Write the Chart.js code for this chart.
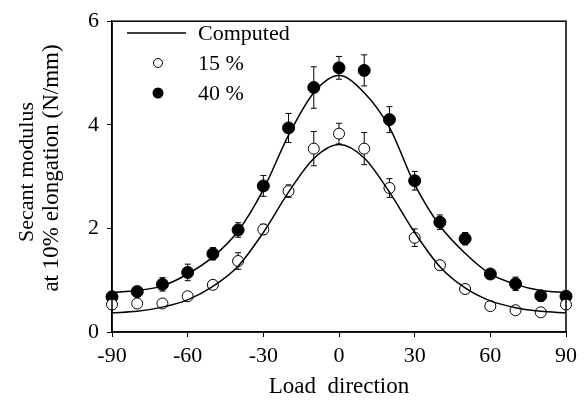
<!DOCTYPE html>
<html>
<head>
<meta charset="utf-8">
<script src="https://cdn.jsdelivr.net/npm/chart.js@4.4.0/dist/chart.umd.min.js"></script>
<style>
  html, body { margin: 0; padding: 0; background: #fff; }
  #wrap { width: 587px; height: 405px; }
</style>
</head>
<body>
<div id="wrap"><canvas id="modulusChart" width="587" height="405"></canvas></div>
<script>
// Load directions of the measured points (degrees)
const angles = [-90, -80, -70, -60, -50, -40, -30, -20, -10, 0, 10, 20, 30, 40, 50, 60, 70, 80, 90];

// Measured secant modulus (N/mm) and error bar half-lengths
const modulus15 = [0.53, 0.55, 0.55, 0.69, 0.91, 1.37, 1.98, 2.72, 3.54, 3.83, 3.54, 2.78, 1.82, 1.29, 0.83, 0.50, 0.42, 0.38, 0.53];
const error15   = [0.03, 0.03, 0.03, 0.04, 0.05, 0.16, 0.10, 0.12, 0.33, 0.20, 0.31, 0.18, 0.17, 0.06, 0.04, 0.03, 0.03, 0.03, 0.03];
const modulus40 = [0.68, 0.78, 0.92, 1.15, 1.51, 1.97, 2.82, 3.94, 4.72, 5.10, 5.05, 4.10, 2.92, 2.12, 1.80, 1.12, 0.93, 0.70, 0.69];
const error40   = [0.05, 0.05, 0.13, 0.16, 0.12, 0.14, 0.20, 0.28, 0.40, 0.22, 0.30, 0.25, 0.18, 0.14, 0.12, 0.06, 0.13, 0.10, 0.05];

// Computed curves
const computed15 = [0.37, 0.40, 0.48, 0.62, 0.88, 1.27, 1.92, 2.70, 3.35, 3.62, 3.36, 2.70, 1.92, 1.26, 0.85, 0.60, 0.47, 0.40, 0.37];
const computed40 = [0.76, 0.80, 0.89, 1.12, 1.45, 1.95, 2.75, 3.80, 4.62, 4.95, 4.62, 3.95, 2.85, 2.05, 1.52, 1.12, 0.92, 0.80, 0.76];

const xTicks = [-90, -60, -30, 0, 30, 60, 90];
const yTicks = [0, 2, 4, 6];

const serif = "'Liberation Serif', 'Times New Roman', serif";

function pts(ys) {
    return angles.map((a, i) => ({ x: a, y: ys[i] }));
}

// error bars, frame, y title and in-plot legend
const extras = {
    id: "extras",
    beforeDatasetsDraw(chart) {
        const c = chart.ctx, xs = chart.scales.x, ys = chart.scales.y;
        c.save();
        c.strokeStyle = "#000";
        c.lineWidth = 1;
        [[modulus15, error15], [modulus40, error40]].forEach(([vals, errs]) => {
            vals.forEach((v, i) => {
                const px = xs.getPixelForValue(angles[i]);
                const top = ys.getPixelForValue(v + errs[i]);
                const bot = ys.getPixelForValue(v - errs[i]);
                c.beginPath();
                c.moveTo(px, top); c.lineTo(px, bot);
                c.moveTo(px - 3, top); c.lineTo(px + 3, top);
                c.moveTo(px - 3, bot); c.lineTo(px + 3, bot);
                c.stroke();
            });
        });
        c.restore();
    },
    afterDraw(chart) {
        const c = chart.ctx, a = chart.chartArea;
        c.save();
        c.strokeStyle = "#000";
        c.lineWidth = 1.5;
        c.strokeRect(a.left, a.top, a.right - a.left, a.bottom - a.top);

        // y axis title, two lines
        c.save();
        c.fillStyle = "#000";
        c.textAlign = "center";
        c.textBaseline = "middle";
        c.translate(27, 172);
        c.rotate(-Math.PI / 2);
        c.font = "22px " + serif;
        c.fillText("Secant modulus", 0, 0);
        c.font = "23px " + serif;
        c.fillText("at 10% elongation (N/mm)", 4, 25);
        c.restore();

        c.font = "22px " + serif;
        c.fillStyle = "#000";
        c.textBaseline = "middle";
        c.beginPath();
        c.moveTo(127, 33); c.lineTo(186, 33);
        c.stroke();
        c.fillText("Computed", 198, 34);

        c.lineWidth = 1;
        c.beginPath();
        c.arc(158, 63, 4.5, 0, Math.PI * 2);
        c.fillStyle = "#fff"; c.fill(); c.stroke();
        c.fillStyle = "#000";
        c.fillText("15 %", 198, 64);

        c.beginPath();
        c.arc(158, 93, 5.5, 0, Math.PI * 2);
        c.fill();
        c.fillText("40 %", 198, 94);
        c.restore();
    }
};

const tickFont = { family: serif, size: 22 };

new Chart(document.getElementById("modulusChart"), {
    type: "scatter",
    data: {
        datasets: [
            {
                label: "Computed 15",
                data: pts(computed15),
                showLine: true,
                borderColor: "#000",
                borderWidth: 1.5,
                pointRadius: 0,
                cubicInterpolationMode: "monotone"
            },
            {
                label: "Computed 40",
                data: pts(computed40),
                showLine: true,
                borderColor: "#000",
                borderWidth: 1.5,
                pointRadius: 0,
                cubicInterpolationMode: "monotone"
            },
            {
                label: "15 %",
                data: pts(modulus15),
                clip: false,
                pointRadius: 5.5,
                pointBackgroundColor: "#fff",
                pointBorderColor: "#000",
                pointBorderWidth: 1
            },
            {
                label: "40 %",
                data: pts(modulus40),
                clip: false,
                pointRadius: 6,
                pointBackgroundColor: "#000",
                pointBorderColor: "#000",
                pointBorderWidth: 1
            }
        ]
    },
    options: {
        responsive: false,
        animation: false,
        layout: { padding: { top: 17, right: 21, left: 0, bottom: 0 } },
        plugins: {
            legend: { display: false },
            tooltip: { enabled: false }
        },
        scales: {
            x: {
                type: "linear",
                min: -90,
                max: 90,
                afterBuildTicks: s => { s.ticks = xTicks.map(v => ({ value: v })); },
                afterFit: s => { s.height = 73; },
                grid: { drawOnChartArea: false, drawTicks: true, tickLength: 5, color: "#000" },
                border: { display: true, color: "#000", width: 1.5 },
                ticks: { color: "#000", font: tickFont, padding: 6, maxRotation: 0 },
                title: { display: true, text: "Load  direction", color: "#000", font: { family: serif, size: 23 }, padding: { top: 2 } }
            },
            y: {
                min: 0,
                max: 6,
                afterBuildTicks: s => { s.ticks = yTicks.map(v => ({ value: v })); },
                afterFit: s => { s.width = 112; },
                grid: { drawOnChartArea: false, drawTicks: true, tickLength: 5, color: "#000" },
                border: { display: true, color: "#000", width: 1.5 },
                ticks: { color: "#000", font: tickFont, padding: 8 }
            }
        }
    },
    plugins: [extras]
});
</script>
</body>
</html>
